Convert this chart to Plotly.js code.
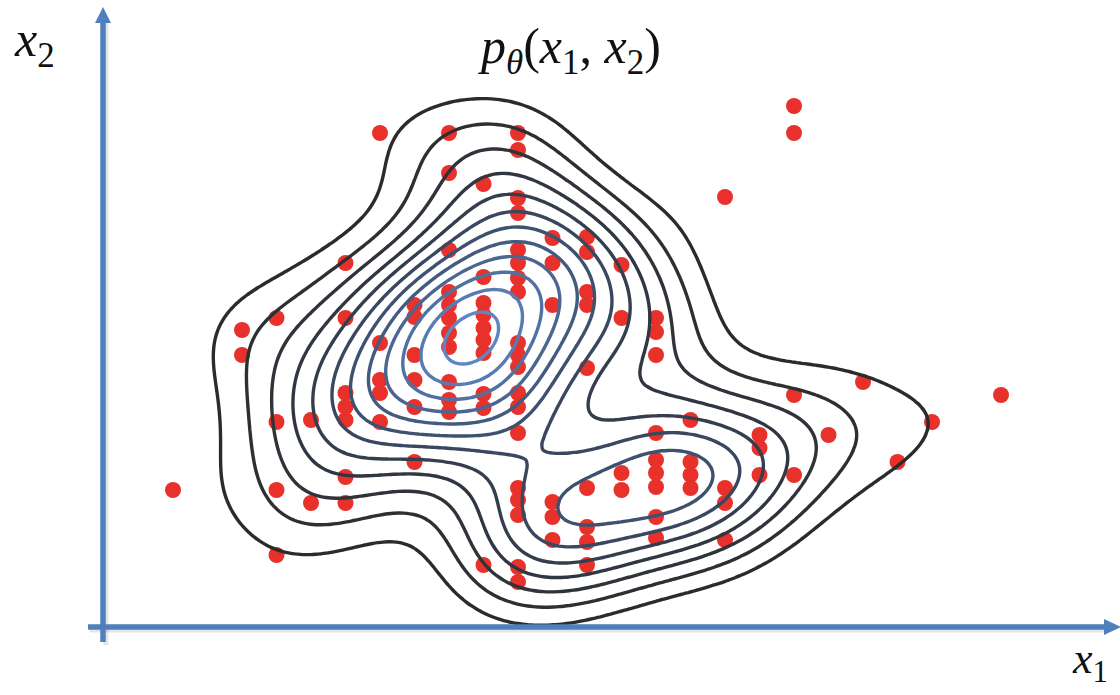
<!DOCTYPE html>
<html>
<head>
<meta charset="utf-8">
<script src="https://cdn.plot.ly/plotly-3.0.1.min.js"></script>
<style>html,body{margin:0;padding:0;background:#fff;}#chart{width:1120px;height:695px;}</style>
</head>
<body>
<div id="chart"></div>
<script>
const x1 = [2,
  4,4,
  5,5,5,5,
  6,6,
  7,7,7,7,7,7,7,
  8,8,8,8,8,
  9,9,9,9,9,9,
  10,10,10,10,10,10,10,10,10,10,10,
  11,11,11,11,11,11,11,11,11,11,
  12,12,12,12,12,12,12,12,12,12,12,12,12,12,12,12,12,12,12,
  13,13,13,13,13,13,
  14,14,14,14,14,14,14,14,14,
  15,15,15,15,
  16,16,16,16,16,16,16,16,16,
  17,17,17,17,
  18,18,18,18,
  19,19,19,
  20,20,20,20,
  21,22,23,24,26];
const x2 = [13.8,
  29.8,27.3,
  31.0,20.6,13.8,7.3,
  20.8,12.5,
  36.5,31.0,23.5,22.1,20.8,15.1,12.5,
  49.5,28.5,24.8,23.5,20.6,
  32.3,31.1,27.3,24.8,22.1,16.6,
  49.5,45.5,37.8,33.6,32.3,31.0,29.5,28.1,24.6,22.8,21.6,
  44.4,35.1,32.5,31.3,30.0,28.8,27.5,23.4,22.0,6.3,
  49.5,47.8,43.0,41.5,37.8,36.5,35.0,33.6,28.5,27.3,26.1,23.5,22.1,19.5,14.0,12.8,11.3,6.1,4.6,
  39.0,36.5,32.3,12.6,11.1,8.8,
  39.1,37.6,33.6,32.3,26.0,14.0,10.1,8.6,6.3,
  36.3,31.0,15.5,13.8,
  31.0,29.6,27.3,19.5,16.8,15.5,14.1,11.1,9.0,
  20.8,16.6,15.3,14.0,
  43.1,14.0,12.5,8.8,
  19.3,18.0,15.3,
  52.2,49.5,23.3,15.3,
  19.3,24.6,16.6,20.6,23.3];

const titleText = '<i>p</i><sub><i>θ</i></sub>(<i>x</i><sub>1</sub>, <i>x</i><sub>2</sub>)';
const xLabel = '<i>x</i><sub>1</sub>';
const yLabel = '<i>x</i><sub>2</sub>';

// axis ranges (whole figure is the plotting area)
const XR = [-3.0145, 29.449];
const YR = [-6.7, 62.8];

// kernel density estimate of the samples (this is p_theta)
const hx = 1.75, hy = 5.2;
const gx = [], gy = [];
for (let v = XR[0]; v <= XR[1]; v += 0.15) gx.push(v);
for (let v = YR[0]; v <= YR[1]; v += 0.5) gy.push(v);
let zmax = 0;
const z = gy.map(yy => gx.map(xx => {
  let s = 0;
  for (let i = 0; i < x1.length; i++) {
    const dx = (xx - x1[i]) / hx, dy = (yy - x2[i]) / hy;
    s += Math.exp(-0.5 * (dx * dx + dy * dy));
  }
  if (s > zmax) zmax = s;
  return s;
}));
const zn = z.map(r => r.map(v => v / zmax));

const W = 1120, H = 695;
const px = v => v / W, py = v => 1 - v / H;
const blue = '#4f7fbd';

const shapes = [
  // shadows
  {type:'line', xref:'paper', yref:'paper', x0:px(106), x1:px(106), y0:py(645), y1:py(22), line:{color:'rgba(0,0,0,0.10)', width:5}},
  {type:'line', xref:'paper', yref:'paper', x0:px(90), x1:px(1106), y0:py(630), y1:py(630), line:{color:'rgba(0,0,0,0.10)', width:5}},
  // y axis arrow
  {type:'line', xref:'paper', yref:'paper', x0:px(103), x1:px(103), y0:py(642), y1:py(20), line:{color:blue, width:5.5}},
  {type:'path', xref:'paper', yref:'paper', path:`M ${px(103)} ${py(7)} L ${px(95)} ${py(23)} L ${px(111)} ${py(23)} Z`, fillcolor:blue, line:{width:0}},
  // x axis arrow
  {type:'line', xref:'paper', yref:'paper', x0:px(88), x1:px(1106), y0:py(627), y1:py(627), line:{color:blue, width:5.5}},
  {type:'path', xref:'paper', yref:'paper', path:`M ${px(1121)} ${py(627)} L ${px(1104)} ${py(619)} L ${px(1104)} ${py(635)} Z`, fillcolor:blue, line:{width:0}}
];

const data = [
  {type:'scatter', mode:'markers', x:x1, y:x2, xaxis:'x', yaxis:'y',
   marker:{size:16, color:'#e8312a', line:{width:0}}, hoverinfo:'x+y'},
  {type:'contour', x:gx, y:gy, z:zn, xaxis:'x2', yaxis:'y2',
   zauto:false, zmin:0.1, zmax:1.0,
   contours:{coloring:'lines', start:0.14, end:1.0, size:0.075},
   line:{width:3.4, smoothing:1.3},
   colorscale:[[0,'#2b2b2b'],[0.3,'#323844'],[0.55,'#3e5170'],[1,'#5e86c4']],
   showscale:false, hoverinfo:'skip'}
];

const ax = {range:XR, showgrid:false, zeroline:false, showticklabels:false, showline:false, ticks:''};
const ay = {range:YR, showgrid:false, zeroline:false, showticklabels:false, showline:false, ticks:''};

const layout = {
  width:W, height:H, margin:{l:0, r:0, t:0, b:0},
  paper_bgcolor:'#ffffff', plot_bgcolor:'#ffffff',
  showlegend:false,
  xaxis:Object.assign({}, ax), yaxis:Object.assign({}, ay),
  xaxis2:Object.assign({overlaying:'x'}, ax), yaxis2:Object.assign({overlaying:'y'}, ay),
  shapes:shapes,
  annotations:[
    {text:titleText, xref:'paper', yref:'paper', x:px(569), y:py(50), xanchor:'center', yanchor:'middle', showarrow:false,
     font:{family:'Liberation Serif, DejaVu Serif, serif', size:50, color:'#111'}},
    {text:yLabel, xref:'paper', yref:'paper', x:px(12), y:py(43), xanchor:'left', yanchor:'middle', showarrow:false,
     font:{family:'Liberation Serif, DejaVu Serif, serif', size:50, color:'#111'}},
    {text:xLabel, xref:'paper', yref:'paper', x:px(1070), y:py(661), xanchor:'left', yanchor:'middle', showarrow:false,
     font:{family:'Liberation Serif, DejaVu Serif, serif', size:44, color:'#111'}}
  ]
};

Plotly.newPlot('chart', data, layout, {displayModeBar:false, staticPlot:true});
</script>
</body>
</html>
